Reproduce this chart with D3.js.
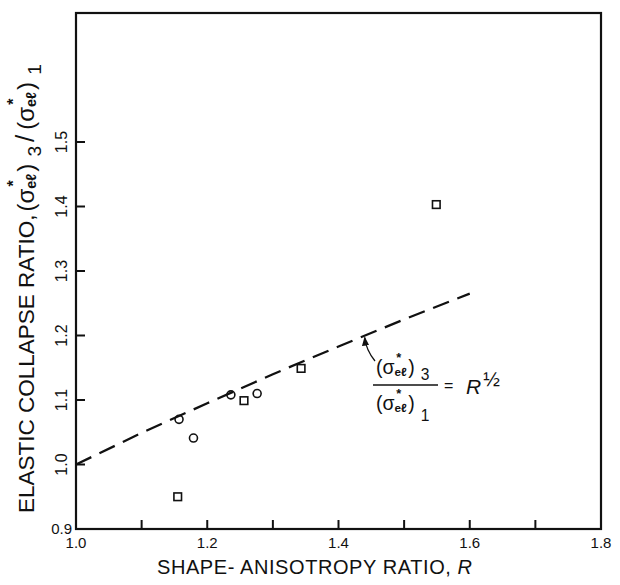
<!DOCTYPE html>
<html>
<head>
<meta charset="utf-8">
<script src="https://cdn.jsdelivr.net/npm/d3@7"></script>
<style>
  html, body { margin: 0; padding: 0; background: #fff; }
  svg { display: block; }
  text { font-family: "Liberation Sans", Arial, sans-serif; fill: #111; }
</style>
</head>
<body>
<svg id="chart" width="620" height="585"></svg>
<script>
// ---- data ----
const circleR   = [1.157, 1.179, 1.236, 1.276];
const circleVal = [1.070, 1.041, 1.108, 1.110];
const squareR   = [1.155, 1.256, 1.343, 1.549];
const squareVal = [0.950, 1.099, 1.149, 1.403];
const curveR    = [1.0, 1.1, 1.2, 1.3, 1.4, 1.5, 1.6];
const curveVal  = [1.000, 1.049, 1.095, 1.140, 1.183, 1.225, 1.265];
const xTicks      = [1.1, 1.2, 1.3, 1.4, 1.5, 1.6, 1.7];
const xTickLabels = ["1.0", "1.2", "1.4", "1.6", "1.8"];
const yTicks      = [1.0, 1.1, 1.2, 1.3, 1.4, 1.5];
const yTickLabels = ["0.9", "1.0", "1.1", "1.2", "1.3", "1.4", "1.5"];

const svg = d3.select("#chart");
const x = d3.scaleLinear().domain([1.0, 1.8]).range([76, 601]);
const y = d3.scaleLinear().domain([0.9, 1.7]).range([529, 13]);
const ink = "#111";

// frame
svg.append("rect")
  .attr("x", x(1.0)).attr("y", y(1.7))
  .attr("width", x(1.8) - x(1.0)).attr("height", y(0.9) - y(1.7))
  .attr("fill", "none").attr("stroke", ink).attr("stroke-width", 2.2);

// ticks (inward)
svg.append("g").selectAll("line").data(xTicks).join("line")
  .attr("x1", d => x(d)).attr("x2", d => x(d))
  .attr("y1", y(0.9)).attr("y2", y(0.9) - 9)
  .attr("stroke", ink).attr("stroke-width", 2);
svg.append("g").selectAll("line").data(yTicks).join("line")
  .attr("y1", d => y(d)).attr("y2", d => y(d))
  .attr("x1", x(1.0)).attr("x2", x(1.0) + 9)
  .attr("stroke", ink).attr("stroke-width", 2);

// x tick labels
svg.append("g").selectAll("text").data(xTickLabels).join("text")
  .attr("x", d => x(+d)).attr("y", 548)
  .attr("text-anchor", "middle").attr("font-size", 15)
  .text(d => d);

// y tick labels: 0.9 horizontal, others rotated
yTickLabels.forEach(lbl => {
  const v = +lbl;
  if (v === 0.9) {
    svg.append("text").attr("x", 72).attr("y", 534)
      .attr("text-anchor", "end").attr("font-size", 15).text(lbl);
  } else {
    svg.append("text")
      .attr("transform", `translate(67,${y(v)}) rotate(-90)`)
      .attr("text-anchor", "middle").attr("font-size", 16).text(lbl);
  }
});

// helper: draws (σ*eℓ)n starting at x0 on baseline 0 of group g; returns end x
function piece(g, x0, y0, size, str, extra) {
  const t = g.append("text").attr("x", x0).attr("y", y0).attr("font-size", size).text(str);
  if (extra) extra(t);
  return t.node().getComputedTextLength();
}
function sigmaTerm(g, x0, size, sub, subDrop) {
  let cx = x0;
  cx += piece(g, cx, 0, size, "(σ");
  const bx = cx;
  const b = piece(g, cx, size * 0.08, size * 0.6, "eℓ", t => t.attr("font-weight", "bold"));
  g.append("text").attr("x", bx + b * 0.35).attr("y", -size * 0.64)
    .attr("font-size", size * 0.66).attr("font-weight", "bold")
    .attr("text-anchor", "middle").text("*");
  cx += b + size * 0.08;
  cx += piece(g, cx, 0, size, ")");
  if (sub) {
    cx += size * 0.3;
    cx += piece(g, cx, size * (subDrop || 0.38), size * 0.8, sub);
  }
  return cx;
}

// x axis title
svg.append("text").attr("x", 157).attr("y", 574)
  .attr("font-size", 20).attr("textLength", 315).attr("lengthAdjust", "spacing")
  .call(t => {
    t.append("tspan").text("SHAPE- ANISOTROPY RATIO, ");
    t.append("tspan").attr("font-style", "italic").text("R");
  });

// y axis title
const yg = svg.append("g").attr("transform", "translate(34,513) rotate(-90)");
let yx = piece(yg, 0, 0, 22.5, "ELASTIC COLLAPSE RATIO,");
yx = sigmaTerm(yg, yx + 3, 24, "3", 0.3);
yx += 4;
yx += piece(yg, yx, 0, 26, "/") + 5;
sigmaTerm(yg, yx, 24, "1", 0.3);

// dashed curve R^1/2
const line = d3.line().x(d => x(d[0])).y(d => y(d[1]));
svg.append("path")
  .datum(curveR.map((r, i) => [r, curveVal[i]]))
  .attr("d", line)
  .attr("fill", "none").attr("stroke", ink).attr("stroke-width", 2.3)
  .attr("stroke-dasharray", "17,9");

// circles
svg.append("g").selectAll("circle").data(circleR.map((r, i) => [r, circleVal[i]])).join("circle")
  .attr("cx", d => x(d[0])).attr("cy", d => y(d[1])).attr("r", 4)
  .attr("fill", "none").attr("stroke", ink).attr("stroke-width", 1.6);

// squares
svg.append("g").selectAll("rect").data(squareR.map((r, i) => [r, squareVal[i]])).join("rect")
  .attr("x", d => x(d[0]) - 3.8).attr("y", d => y(d[1]) - 3.8)
  .attr("width", 7.6).attr("height", 7.6)
  .attr("fill", "none").attr("stroke", ink).attr("stroke-width", 1.6);

// annotation: arrow to curve
svg.append("defs").append("marker")
  .attr("id", "ah").attr("viewBox", "0 0 10 10").attr("refX", 9).attr("refY", 5)
  .attr("markerWidth", 7).attr("markerHeight", 7).attr("orient", "auto")
  .append("path").attr("d", "M0,1 L10,5 L0,9 Z").attr("fill", ink);
svg.append("path")
  .attr("d", `M375,361 Q366,350 ${x(1.44)},${y(1.2) + 2}`)
  .attr("fill", "none").attr("stroke", ink).attr("stroke-width", 1.3)
  .attr("marker-end", "url(#ah)");

// formula
const ng = svg.append("g").attr("transform", "translate(376,374)");
sigmaTerm(ng, 0, 19.5, "3", 0.3);
svg.append("line").attr("x1", 373).attr("x2", 438).attr("y1", 385).attr("y2", 385)
  .attr("stroke", ink).attr("stroke-width", 1.6);
const dg = svg.append("g").attr("transform", "translate(376,410)");
sigmaTerm(dg, 0, 19.5, "1", 0.55);
svg.append("text").attr("x", 444).attr("y", 391).attr("font-size", 16).text("=");
const rhs = svg.append("text").attr("x", 466).attr("y", 394).attr("font-size", 21);
rhs.append("tspan").attr("font-style", "italic").text("R");
rhs.append("tspan").attr("font-size", 20).attr("dy", -8).attr("dx", 2).text("½");
</script>
</body>
</html>
